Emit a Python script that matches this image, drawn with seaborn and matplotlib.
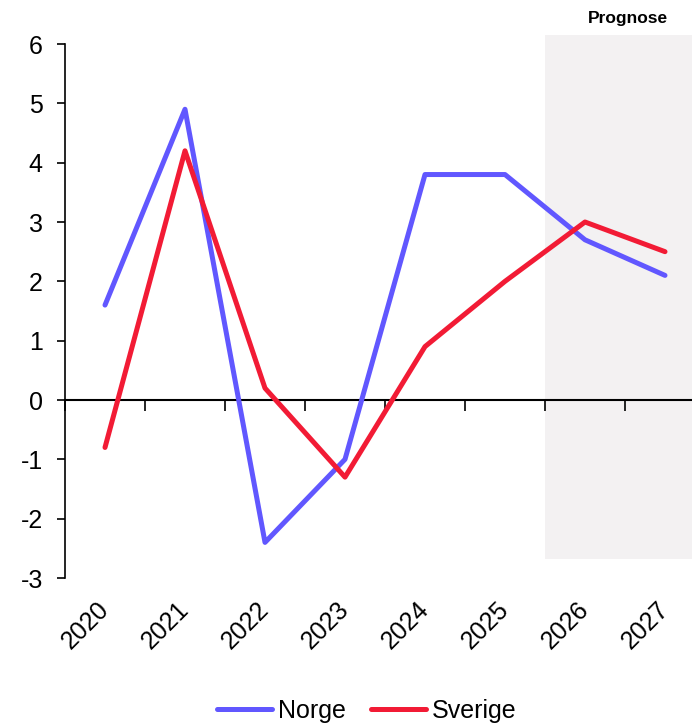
import pandas as pd
import matplotlib
matplotlib.use("Agg")
import matplotlib.pyplot as plt
import seaborn as sns

# Data
aar = ['2020', '2021', '2022', '2023', '2024', '2025', '2026', '2027']
norge = [1.6, 4.9, -2.4, -1.0, 3.8, 3.8, 2.7, 2.1]
sverige = [-0.8, 4.2, 0.2, -1.3, 0.9, 2.0, 3.0, 2.5]
serier = ['Norge', 'Sverige']
farger = ['#6157FF', '#F21B35']

df = pd.DataFrame({
    'aar': aar * 2,
    'verdi': norge + sverige,
    'land': ['Norge'] * len(aar) + ['Sverige'] * len(aar),
})

sns.set_style('white')
plt.rcParams['font.family'] = ['Liberation Sans', 'DejaVu Sans']
plt.rcParams['axes.unicode_minus'] = False
plt.rcParams['text.color'] = 'black'
plt.rcParams['xtick.color'] = 'black'
plt.rcParams['ytick.color'] = 'black'

fig = plt.figure(figsize=(6.92, 7.24), dpi=100)
ax = fig.add_axes([65 / 692, 146 / 724, 640 / 692, 534 / 724])

# Prognose-område
ax.fill_between([5.5, 7.5], -2.68, 6.15, color='#F3F1F2', lw=0, zorder=0, clip_on=False)

sns.lineplot(data=df, x='aar', y='verdi', hue='land', hue_order=serier,
             palette=farger, linewidth=3.6, ax=ax, sort=False, legend=False)
for l in ax.lines:
    l.set_solid_capstyle('round')

ax.set_xlim(-0.5, 7.5)
ax.set_ylim(-3, 6)
ax.set_yticks(range(-3, 7))
ax.set_xticks(range(len(aar)))
ax.set_xticklabels(aar, rotation=45, ha='right', va='center', rotation_mode='anchor')
ax.tick_params(axis='x', length=0, pad=20, labelsize=18)
ax.tick_params(axis='y', length=6, width=1.2, direction='out', left=True, labelsize=18, pad=10)
ax.set_xlabel('')
ax.set_ylabel('')

for s in ['top', 'right', 'bottom']:
    ax.spines[s].set_visible(False)
ax.spines['left'].set_color('black')
ax.spines['left'].set_linewidth(1.2)

# Nullinje med tick-merker mellom årene
sec = ax.secondary_xaxis(1 / 3)
sec.set_xticks([i + 0.5 for i in range(len(aar) - 1)] + [-0.5])
sec.tick_params(axis='x', length=8, width=1.2, direction='out', labelbottom=False, bottom=True)
sec.spines['bottom'].set_color('black')
sec.spines['bottom'].set_linewidth(1.5)

fig.text(628 / 692, 1 - 18 / 724, 'Prognose', ha='center', va='center',
         fontsize=12.5, fontweight='bold')

handles = [plt.Line2D([], [], color=c, lw=3.6, solid_capstyle='round') for c in farger]
fig.legend(handles, serier, loc='lower center', bbox_to_anchor=(0.53, -0.03), ncol=2,
           frameon=False, fontsize=18, handlelength=2.2, handletextpad=0.25,
           columnspacing=1.0)

fig.savefig('out.png', dpi=100)
